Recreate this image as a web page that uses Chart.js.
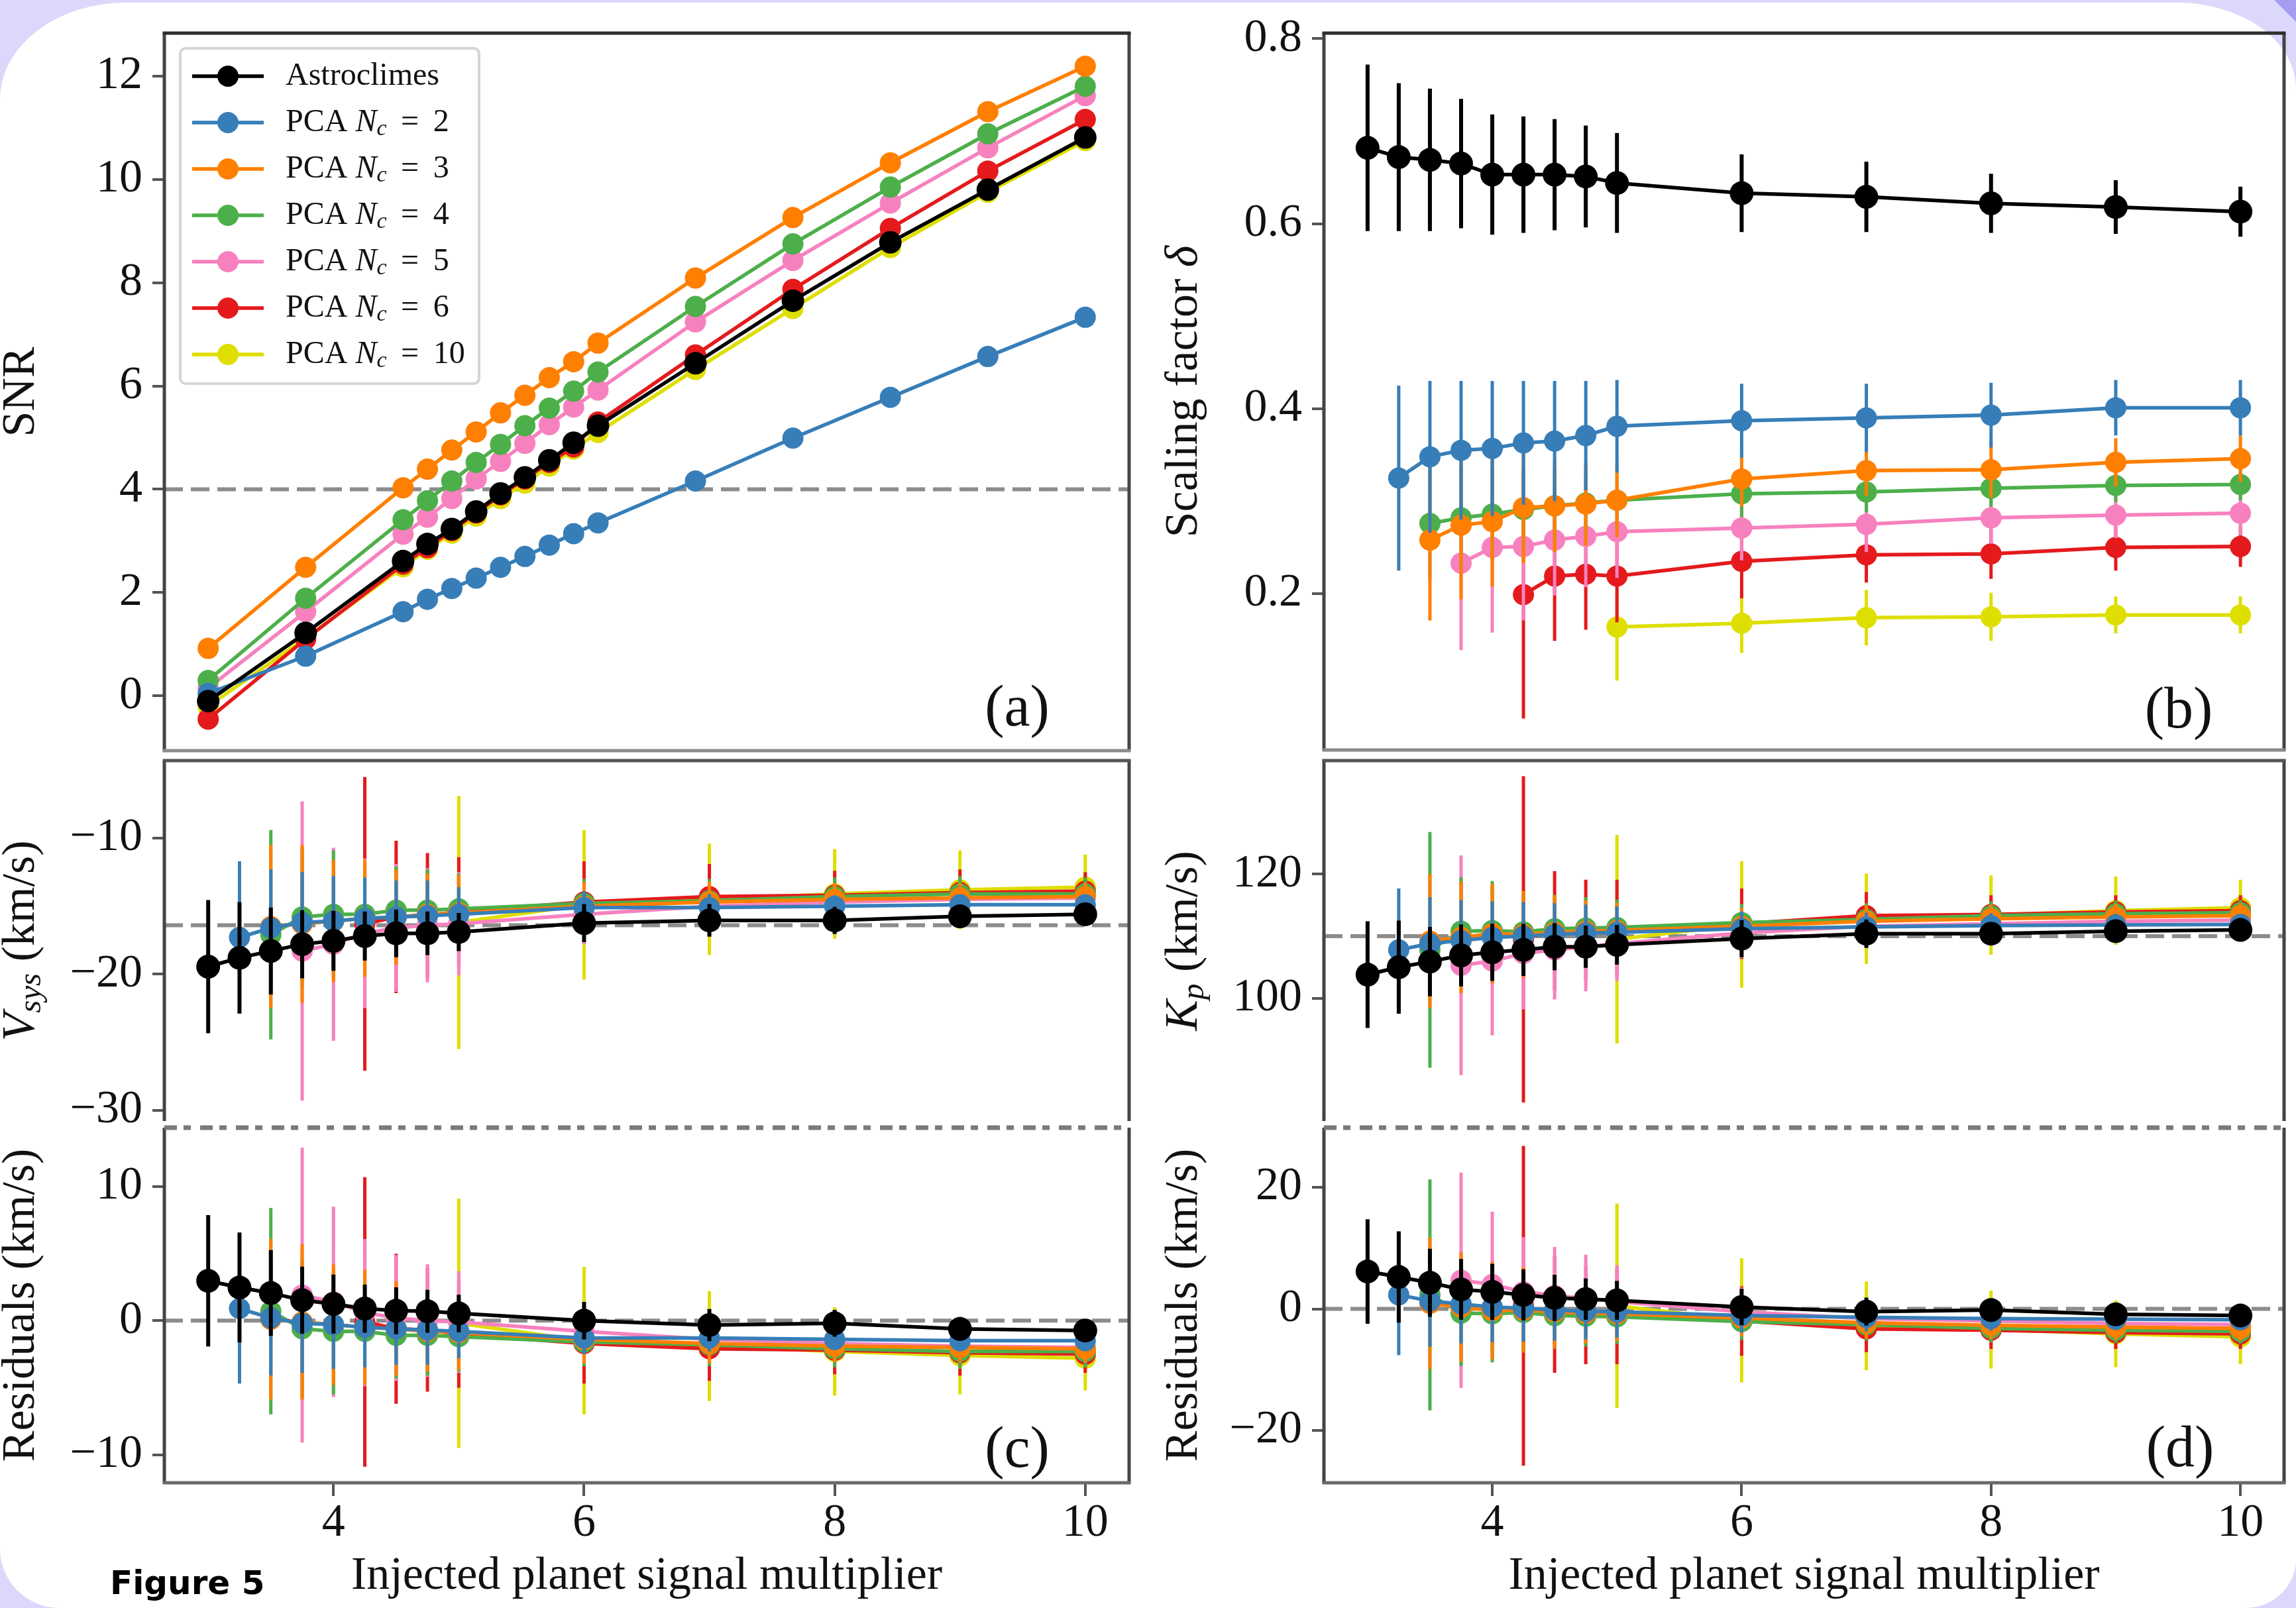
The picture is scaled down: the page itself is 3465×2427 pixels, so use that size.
<!DOCTYPE html>
<html>
<head>
<meta charset="utf-8">
<script src="https://cdn.jsdelivr.net/npm/chart.js@4.4.1/dist/chart.umd.min.js"></script>
<style>
  html, body { margin: 0; padding: 0; }
  body { width: 3465px; height: 2427px; position: relative; overflow: hidden; background: #dcd8fb; }
  #sheet { position: absolute; left: 0; top: 4px; width: 3465px; height: 2423px; background: #fff;
           border-radius: 190px 180px 77px 90px / 146px 130px 73px 90px; }
  #curl { position: absolute; right: 0; top: 0; width: 33px; height: 33px; background: #a69df1;
          clip-path: polygon(0 0, 100% 0, 100% 100%); }
  canvas { position: absolute; }
  #fig { position: absolute; left: 166px; top: 2359px; font: bold 50px "Comic Sans MS", "DejaVu Sans", sans-serif;
         line-height: 60px; color: #000; }
</style>
</head>
<body>
<div id="sheet"></div>
<div id="curl"></div>
<canvas id="pa"></canvas>
<canvas id="pb"></canvas>
<canvas id="pcu"></canvas>
<canvas id="pdu"></canvas>
<canvas id="pcl"></canvas>
<canvas id="pdl"></canvas>
<div id="fig">Figure 5</div>
<script>
// ---- data ----
const multA = [1, 2, 3, 3.25, 3.5, 3.75, 4, 4.25, 4.5, 4.75, 5, 6, 7, 8, 9, 10];
const mult = [3, 3.25, 3.5, 3.75, 4, 4.25, 4.5, 4.75, 5, 6, 7, 8, 9, 10];

// (a) SNR
const snrAstro = [-0.1, 1.22, 2.61, 2.94, 3.23, 3.57, 3.92, 4.23, 4.56, 4.9, 5.23, 6.44, 7.65, 8.78, 9.8, 10.81];
const snrN2 = [0.05, 0.77, 1.63, 1.87, 2.08, 2.28, 2.49, 2.7, 2.92, 3.14, 3.35, 4.16, 4.99, 5.78, 6.57, 7.33];
const snrN3 = [0.92, 2.49, 4.03, 4.39, 4.76, 5.11, 5.48, 5.82, 6.16, 6.47, 6.83, 8.09, 9.26, 10.32, 11.31, 12.19];
const snrN4 = [0.3, 1.89, 3.41, 3.78, 4.16, 4.52, 4.87, 5.23, 5.57, 5.9, 6.27, 7.54, 8.75, 9.85, 10.88, 11.8];
const snrN5 = [0.15, 1.63, 3.13, 3.46, 3.82, 4.2, 4.54, 4.89, 5.25, 5.59, 5.92, 7.24, 8.43, 9.54, 10.61, 11.62];
const snrN6 = [-0.45, 1.1, 2.55, 2.87, 3.2, 3.54, 3.89, 4.2, 4.52, 4.82, 5.3, 6.6, 7.87, 9.05, 10.16, 11.16];
const snrN10 = [-0.2, 1.12, 2.5, 2.84, 3.15, 3.48, 3.82, 4.12, 4.45, 4.78, 5.1, 6.32, 7.5, 8.68, 9.75, 10.75];

// (b) scaling factor
const delAstro = [0.682, 0.672, 0.669, 0.665, 0.653, 0.653, 0.653, 0.651, 0.644, 0.633, 0.629, 0.622, 0.618, 0.613];
const delN2 = [null, 0.325, 0.348, 0.355, 0.357, 0.363, 0.365, 0.371, 0.381, 0.387, 0.39, 0.393, 0.401, 0.401];
const delN3 = [null, null, 0.258, 0.274, 0.278, 0.293, 0.295, 0.297, 0.301, 0.324, 0.333, 0.334, 0.342, 0.346];
const delN4 = [null, null, 0.276, 0.282, 0.286, 0.291, 0.295, 0.298, 0.301, 0.308, 0.31, 0.314, 0.317, 0.318];
const delN5 = [null, null, null, 0.233, 0.25, 0.251, 0.258, 0.262, 0.267, 0.271, 0.275, 0.282, 0.285, 0.287];
const delN6 = [null, null, null, null, null, 0.199, 0.219, 0.221, 0.219, 0.235, 0.242, 0.243, 0.25, 0.251];
const delN10 = [null, null, null, null, null, null, null, null, 0.164, 0.168, 0.174, 0.175, 0.177, 0.177];
const delErrAstro = [0.09, 0.08, 0.077, 0.07, 0.065, 0.063, 0.06, 0.055, 0.054, 0.042, 0.038, 0.032, 0.029, 0.027];
const delErrN2 = [null, 0.1, 0.082, 0.075, 0.073, 0.067, 0.065, 0.059, 0.05, 0.04, 0.037, 0.035, 0.03, 0.03];
const delErrN3 = [null, null, 0.087, 0.08, 0.07, 0.06, 0.05, 0.045, 0.04, 0.03, 0.027, 0.03, 0.026, 0.025];
const delErrN4 = [null, null, 0.06, 0.055, 0.05, 0.045, 0.04, 0.035, 0.03, 0.025, 0.022, 0.02, 0.018, 0.017];
const delErrN5 = [null, null, null, 0.094, 0.092, 0.08, 0.06, 0.055, 0.05, 0.035, 0.03, 0.028, 0.025, 0.024];
const delErrN6 = [null, null, null, null, null, 0.134, 0.07, 0.06, 0.05, 0.04, 0.03, 0.027, 0.025, 0.022];
const delErrN10 = [null, null, null, null, null, null, null, null, 0.058, 0.032, 0.03, 0.026, 0.02, 0.02];

// (c) systemic velocity and residuals (km/s)
const vsysAstro = [-19.45, -18.8, -18.3, -17.8, -17.55, -17.2, -17.0, -17.0, -16.9, -16.25, -16.05, -16.05, -15.75, -15.6];
const vsysN2 = [null, -17.3, -16.6, -16.2, -16.1, -15.9, -15.8, -15.7, -15.6, -15.1, -15.1, -15.0, -14.9, -14.9];
const vsysN3 = [null, null, -16.5, -16.3, -16.1, -15.9, -15.8, -15.6, -15.5, -15.0, -14.7, -14.5, -14.4, -14.3];
const vsysN4 = [null, null, -17.1, -15.8, -15.6, -15.6, -15.3, -15.3, -15.2, -14.8, -14.6, -14.3, -14.1, -14.1];
const vsysN5 = [null, null, null, -18.3, -17.8, -17.0, -16.6, -16.4, -16.3, -15.6, -15.0, -14.7, -14.5, -14.4];
const vsysN6 = [null, null, null, null, null, -16.3, -15.8, -15.7, -15.4, -14.7, -14.3, -14.2, -14.0, -13.9];
const vsysN10 = [null, null, null, null, null, null, null, null, -16.2, -14.9, -14.5, -14.1, -13.8, -13.6];
const vsysErrAstro = [4.9, 4.1, 3.2, 2.5, 2.2, 1.8, 1.75, 1.6, 1.4, 1.4, 1.2, 1.0, 0.8, 0.7];
const vsysErrN2 = [null, 5.6, 4.3, 3.7, 3.3, 3.0, 2.7, 2.6, 2.0, 1.2, 1.0, 0.8, 0.7, 0.6];
const vsysErrN3 = [null, null, 6.0, 5.8, 4.5, 4.3, 3.5, 3.0, 2.8, 1.8, 1.5, 1.2, 1.1, 1.0];
const vsysErrN4 = [null, null, 7.7, 5.1, 4.7, 4.0, 3.2, 3.0, 2.6, 1.8, 1.6, 1.4, 1.3, 1.2];
const vsysErrN5 = [null, null, null, 11.0, 7.1, 5.5, 4.7, 4.2, 3.8, 2.2, 1.8, 1.5, 1.3, 1.2];
const vsysErrN6 = [null, null, null, null, null, 10.8, 5.6, 4.6, 4.0, 3.0, 2.4, 1.8, 1.7, 1.4];
const vsysErrN10 = [null, null, null, null, null, null, null, null, 9.3, 5.5, 4.1, 3.3, 2.9, 2.4];
const vresAstro = [2.97, 2.47, 2.06, 1.53, 1.24, 0.9, 0.74, 0.7, 0.54, 0.0, -0.33, -0.2, -0.62, -0.74];
const vresN2 = [null, 0.9, 0.2, -0.2, -0.3, -0.5, -0.6, -0.7, -0.8, -1.3, -1.3, -1.4, -1.5, -1.5];
const vresN3 = [null, null, 0.1, -0.1, -0.3, -0.5, -0.6, -0.8, -0.9, -1.4, -1.7, -1.9, -2.0, -2.1];
const vresN4 = [null, null, 0.7, -0.6, -0.8, -0.8, -1.1, -1.1, -1.2, -1.6, -1.8, -2.1, -2.3, -2.3];
const vresN5 = [null, null, null, 1.9, 1.4, 0.6, 0.2, 0.0, -0.1, -0.8, -1.4, -1.7, -1.9, -2.0];
const vresN6 = [null, null, null, null, null, -0.1, -0.6, -0.7, -1.0, -1.7, -2.1, -2.2, -2.4, -2.5];
const vresN10 = [null, null, null, null, null, null, null, null, -0.2, -1.5, -1.9, -2.3, -2.6, -2.8];

// (d) Kp and residuals (km/s)
const kpAstro = [103.8, 105.0, 105.9, 106.9, 107.4, 107.8, 108.3, 108.3, 108.6, 109.6, 110.4, 110.4, 110.8, 111.0];
const kpN2 = [null, 107.8, 108.8, 109.3, 109.8, 110.0, 110.3, 110.5, 110.6, 111.2, 111.5, 111.7, 111.8, 111.9];
const kpN3 = [null, null, 109.2, 109.8, 110.4, 110.3, 110.6, 110.8, 110.9, 111.6, 112.4, 112.8, 113.1, 113.3];
const kpN4 = [null, null, 107.8, 110.8, 110.9, 110.7, 111.2, 111.3, 111.4, 112.2, 112.7, 113.3, 113.6, 113.8];
const kpN5 = [null, null, null, 105.3, 106.0, 107.2, 107.8, 108.3, 108.8, 110.5, 111.6, 112.0, 112.4, 112.6];
const kpN6 = [null, null, null, null, null, 109.5, 110.9, 111.0, 111.2, 112.0, 113.3, 113.5, 113.9, 114.1];
const kpN10 = [null, null, null, null, null, null, null, null, 109.5, 111.9, 112.8, 113.4, 114.1, 114.6];
const kpErrAstro = [8.6, 7.5, 5.6, 5.0, 4.6, 4.2, 3.8, 3.4, 3.2, 3.0, 2.3, 1.8, 1.6, 1.3];
const kpErrN2 = [null, 9.9, 7.5, 6.5, 5.8, 5.5, 5.0, 4.6, 4.2, 2.8, 2.3, 2.0, 1.8, 1.6];
const kpErrN3 = [null, null, 10.8, 9.0, 8.0, 7.0, 6.0, 5.0, 4.5, 3.0, 2.6, 2.3, 2.1, 2.0];
const kpErrN4 = [null, null, 19.0, 8.7, 8.0, 6.5, 5.5, 5.0, 4.5, 3.0, 2.6, 2.3, 2.1, 2.0];
const kpErrN5 = [null, null, null, 17.7, 12.0, 9.0, 8.0, 7.2, 6.0, 4.0, 3.0, 2.6, 2.3, 2.1];
const kpErrN6 = [null, null, null, null, null, 26.3, 9.6, 8.1, 7.9, 5.7, 3.8, 3.1, 2.7, 2.5];
const kpErrN10 = [null, null, null, null, null, null, null, null, 16.8, 10.2, 7.3, 6.4, 5.5, 4.5];
const kresAstro = [6.15, 5.25, 4.3, 3.2, 2.8, 2.3, 1.8, 1.6, 1.4, 0.3, -0.45, -0.2, -0.9, -1.1];
const kresN2 = [null, 2.3, 1.3, 0.8, 0.3, 0.1, -0.2, -0.4, -0.5, -1.1, -1.4, -1.6, -1.7, -1.8];
const kresN3 = [null, null, 0.9, 0.3, -0.3, -0.2, -0.5, -0.7, -0.8, -1.5, -2.3, -2.7, -3.0, -3.2];
const kresN4 = [null, null, 2.3, -0.7, -0.8, -0.6, -1.1, -1.2, -1.3, -2.1, -2.6, -3.2, -3.5, -3.7];
const kresN5 = [null, null, null, 4.7, 4.0, 2.8, 2.2, 1.7, 1.2, -0.5, -1.6, -2.0, -2.4, -2.6];
const kresN6 = [null, null, null, null, null, 0.5, -0.9, -1.0, -1.2, -2.0, -3.3, -3.5, -3.9, -4.1];
const kresN10 = [null, null, null, null, null, null, null, null, 0.5, -1.9, -2.8, -3.4, -4.1, -4.6];

// reference lines and ticks
const snrThreshold = 4;
const vsysTrue = -16.4;
const kpTrue = 110;
const snrTicks = [0, 2, 4, 6, 8, 10, 12];
const delTicks = [0.2, 0.4, 0.6, 0.8];
const vsysTicks = [-30, -20, -10];
const vresTicks = [-10, 0, 10];
const kpTicks = [100, 120];
const kresTicks = [-20, 0, 20];
const multTicks = [4, 6, 8, 10];

const seriesNc = [null, 2, 3, 4, 5, 6, 10];
const seriesColors = ['#000000', '#377eb8', '#ff7f00', '#4daf4a', '#f781bf', '#e41a1c', '#dede00'];

// ---- drawing ----
const FONT = '"Liberation Serif", "Times New Roman", serif';
const INK = '#111';

const fmt = v => String(v).replace('-', '\u2212');

function pts(xs, ys) {
  return xs.map((x, i) => ({x: x, y: ys[i]})).filter(p => p.y !== null);
}
function errPts(xs, ys, es) {
  const out = [];
  xs.forEach((x, i) => {
    if (ys[i] === null) return;
    out.push({x: x, y: ys[i] - es[i]}, {x: x, y: ys[i] + es[i]}, {x: x, y: null});
  });
  return out;
}

function segFont(s, size) {
  return (s.it ? 'italic ' : '') + (s.sub ? Math.round(size * 0.7) : size) + 'px ' + FONT;
}
function richText(ctx, segs, x0, size, center) {
  let w = 0;
  segs.forEach(s => { ctx.font = segFont(s, size); w += ctx.measureText(s.t).width; });
  let x = center ? x0 - w / 2 : x0;
  segs.forEach(s => {
    ctx.font = segFont(s, size);
    ctx.fillText(s.t, x, s.sub ? size * 0.22 : 0);
    x += ctx.measureText(s.t).width;
  });
}

function legendLabel(k) {
  if (seriesNc[k] === null) return [{t: 'Astroclimes'}];
  return [{t: 'PCA '}, {t: 'N', it: true}, {t: 'c', it: true, sub: true}, {t: ' \u2009=\u2009 ' + seriesNc[k]}];
}

function makeDecor(cfg, box) {
  return {
    id: 'decor',
    afterDatasetsDraw(chart) {
      const ctx = chart.ctx;
      const a = chart.chartArea;
      ctx.save();
      const line = (x1, y1, x2, y2, color, w, dash) => {
        ctx.beginPath();
        ctx.strokeStyle = color;
        ctx.lineWidth = w;
        ctx.setLineDash(dash || []);
        ctx.moveTo(x1, y1);
        ctx.lineTo(x2, y2);
        ctx.stroke();
      };
      // spines
      line(a.left, a.top, a.left, a.bottom, '#444', 5);
      line(a.right, a.top, a.right, a.bottom, '#444', 5);
      if (cfg.top === 'dashdot') line(a.left, a.top, a.right, a.top, '#7a7a7a', 7, [19, 10, 11, 14]);
      else if (cfg.top) line(a.left - 2.5, a.top, a.right + 2.5, a.top, cfg.top, 5);
      if (cfg.bottom) line(a.left - 2.5, a.bottom, a.right + 2.5, a.bottom, cfg.bottom, 5);

      // legend
      if (cfg.legend) {
        ctx.setLineDash([]);
        ctx.beginPath();
        ctx.fillStyle = 'rgba(255,255,255,0.9)';
        ctx.strokeStyle = '#d5d5d5';
        ctx.lineWidth = 4;
        ctx.roundRect(272 - box.cl, 73 - box.ct, 451, 506, 8);
        ctx.fill();
        ctx.stroke();
        seriesColors.forEach((c, k) => {
          const y = 115 + 70 * k - box.ct;
          line(290 - box.cl, y, 398 - box.cl, y, c, 5.5);
          ctx.beginPath();
          ctx.fillStyle = c;
          ctx.arc(344 - box.cl, y, 16, 0, Math.PI * 2);
          ctx.fill();
          ctx.fillStyle = INK;
          ctx.textAlign = 'left';
          ctx.textBaseline = 'middle';
          ctx.save();
          ctx.translate(0, y);
          richText(ctx, legendLabel(k), 431 - box.cl, 48, false);
          ctx.restore();
        });
      }

      // y-axis title
      ctx.fillStyle = INK;
      ctx.save();
      ctx.translate(cfg.titleX - box.cl, (a.top + a.bottom) / 2);
      ctx.rotate(-Math.PI / 2);
      ctx.textAlign = 'left';
      ctx.textBaseline = 'middle';
      richText(ctx, cfg.yTitle, 0, 70, true);
      ctx.restore();

      // panel tag
      ctx.font = '88px ' + FONT;
      ctx.textAlign = 'center';
      ctx.textBaseline = 'alphabetic';
      ctx.fillText(cfg.tag, cfg.tagX - box.cl, cfg.tagY - box.ct + 22);
      ctx.restore();
    }
  };
}

function panel(id, box, area, cfg) {
  const cv = document.getElementById(id);
  cv.width = box.cw;
  cv.height = box.ch;
  cv.style.left = box.cl + 'px';
  cv.style.top = box.ct + 'px';
  const yW = area.L - box.cl;
  const xH = cfg.xTicks ? box.ct + box.ch - area.B : 0;

  const datasets = [];
  cfg.series.forEach((s, k) => {
    const color = seriesColors[k];
    datasets.push({
      data: pts(cfg.x, s), borderColor: color, backgroundColor: color, borderWidth: cfg.lw,
      pointRadius: cfg.r + (k === 0 ? cfg.r0 : 0), pointBorderWidth: 0, pointBackgroundColor: color,
      tension: 0, order: 2 * k
    });
    if (cfg.errors) {
      datasets.push({
        data: errPts(cfg.x, s, cfg.errors[k]), borderColor: color, borderWidth: k === 0 ? 6 : 5,
        pointRadius: 0, spanGaps: false, order: 2 * k + 1
      });
    }
  });
  if (cfg.ref !== undefined) {
    datasets.push({
      data: [{x: cfg.xMin, y: cfg.ref}, {x: cfg.xMax, y: cfg.ref}], borderColor: '#8c8c8c',
      borderWidth: 6, borderDash: [28, 12], pointRadius: 0, order: 100
    });
  }

  const gridOpts = {drawOnChartArea: false, drawTicks: true, color: '#555', lineWidth: 4};
  const noPad = s => { s.paddingTop = 0; s.paddingBottom = 0; s.paddingLeft = 0; s.paddingRight = 0; };

  return new Chart(cv, {
    type: 'line',
    data: {datasets: datasets},
    options: {
      responsive: false,
      animation: false,
      devicePixelRatio: 1,
      events: [],
      layout: {padding: {left: 0, top: area.T - box.ct, right: box.cl + box.cw - area.R,
                         bottom: box.ct + box.ch - area.B - xH}},
      plugins: {legend: {display: false}, tooltip: {enabled: false}},
      scales: {
        x: {
          type: 'linear', min: cfg.xMin, max: cfg.xMax, display: !!cfg.xTicks,
          afterBuildTicks: s => { if (cfg.xTicks) s.ticks = cfg.xTicks.map(v => ({value: v})); },
          afterFit: s => { s.height = xH; noPad(s); },
          grid: Object.assign({tickLength: 20}, gridOpts),
          border: {display: false},
          ticks: {font: {family: FONT, size: 70}, color: INK, padding: 0, maxRotation: 0, autoSkip: false,
                  callback: v => fmt(v)},
          title: {display: !!cfg.xTicks, text: 'Injected planet signal multiplier',
                  font: {family: FONT, size: 70}, color: INK, padding: {top: 0, bottom: 5}}
        },
        y: {
          type: 'linear', min: cfg.yMin, max: cfg.yMax,
          afterBuildTicks: s => { s.ticks = cfg.yTicks.map(v => ({value: v})); },
          afterFit: s => { s.width = yW; noPad(s); },
          grid: Object.assign({tickLength: 18}, gridOpts),
          border: {display: false},
          ticks: {font: {family: FONT, size: 70}, color: INK, padding: 15, autoSkip: false,
                  callback: v => cfg.fixed ? v.toFixed(cfg.fixed) : fmt(v)}
        }
      }
    },
    plugins: [makeDecor(cfg, box)]
  });
}

// page layout (pixels)
const colL = {cl: 0, cw: 1730, L: 248, R: 1704, titleX: 33};
const colR = {cl: 1730, cw: 1735, L: 1998, R: 3458, titleX: 1788};
const rowTop = {ct: 0, ch: 1150, T: 50, B: 1142};
const rowMid = {ct: 1130, ch: 590, T: 1146, B: 1692};
const rowBot = {ct: 1684, ch: 743, T: 1692, B: 2238};
const at = (c, r) => ({box: {cl: c.cl, cw: c.cw, ct: r.ct, ch: r.ch}, area: {L: c.L, R: c.R, T: r.T, B: r.B}});

const unitKms = [{t: ' (km/s)'}];

let p = at(colL, rowTop);
panel('pa', p.box, p.area, {
  x: multA, xMin: 0.55, xMax: 10.45, yMin: -1.06, yMax: 12.83, yTicks: snrTicks,
  series: [snrAstro, snrN2, snrN3, snrN4, snrN5, snrN6, snrN10], r: 16, r0: 1, lw: 5.5,
  ref: snrThreshold, top: '#2e2e2e', bottom: '#8a8a8a', legend: true,
  titleX: colL.titleX, yTitle: [{t: 'SNR'}], tag: '(a)', tagX: 1535, tagY: 1073
});

p = at(colR, rowTop);
panel('pb', p.box, p.area, {
  x: mult, xMin: 2.65, xMax: 10.35, yMin: 0.031, yMax: 0.806, yTicks: delTicks, fixed: 1,
  series: [delAstro, delN2, delN3, delN4, delN5, delN6, delN10],
  errors: [delErrAstro, delErrN2, delErrN3, delErrN4, delErrN5, delErrN6, delErrN10], r: 16, r0: 2, lw: 5.5,
  top: '#2e2e2e', bottom: '#8a8a8a',
  titleX: colR.titleX, yTitle: [{t: 'Scaling factor '}, {t: '\u03b4', it: true}], tag: '(b)', tagX: 3288, tagY: 1076
});

const vErr = [vsysErrAstro, vsysErrN2, vsysErrN3, vsysErrN4, vsysErrN5, vsysErrN6, vsysErrN10];
const kErr = [kpErrAstro, kpErrN2, kpErrN3, kpErrN4, kpErrN5, kpErrN6, kpErrN10];

p = at(colL, rowMid);
panel('pcu', p.box, p.area, {
  x: mult, xMin: 2.65, xMax: 10.35, yMin: -30.8, yMax: -4.3, yTicks: vsysTicks,
  series: [vsysAstro, vsysN2, vsysN3, vsysN4, vsysN5, vsysN6, vsysN10], errors: vErr, r: 16, r0: 2, lw: 5.5,
  ref: vsysTrue, top: '#555',
  titleX: colL.titleX, yTitle: [{t: 'V', it: true}, {t: 'sys', it: true, sub: true}].concat(unitKms), tag: '', tagX: 0, tagY: 0
});

p = at(colR, rowMid);
panel('pdu', p.box, p.area, {
  x: mult, xMin: 2.65, xMax: 10.35, yMin: 80.2, yMax: 138.3, yTicks: kpTicks,
  series: [kpAstro, kpN2, kpN3, kpN4, kpN5, kpN6, kpN10], errors: kErr, r: 16, r0: 2, lw: 5.5,
  ref: kpTrue, top: '#555',
  titleX: colR.titleX, yTitle: [{t: 'K', it: true}, {t: 'p', it: true, sub: true}].concat(unitKms), tag: '', tagX: 0, tagY: 0
});

p = at(colL, rowBot);
panel('pcl', p.box, p.area, {
  x: mult, xMin: 2.65, xMax: 10.35, yMin: -12.1, yMax: 14.4, yTicks: vresTicks, xTicks: multTicks,
  series: [vresAstro, vresN2, vresN3, vresN4, vresN5, vresN6, vresN10], errors: vErr, r: 16, r0: 2, lw: 5.5,
  ref: 0, top: 'dashdot', bottom: '#6a6a6a',
  titleX: colL.titleX, yTitle: [{t: 'Residuals (km/s)'}], tag: '(c)', tagX: 1535, tagY: 2192
});

p = at(colR, rowBot);
panel('pdl', p.box, p.area, {
  x: mult, xMin: 2.65, xMax: 10.35, yMin: -28.6, yMax: 29.8, yTicks: kresTicks, xTicks: multTicks,
  series: [kresAstro, kresN2, kresN3, kresN4, kresN5, kresN6, kresN10], errors: kErr, r: 16, r0: 2, lw: 5.5,
  ref: 0, top: 'dashdot', bottom: '#6a6a6a',
  titleX: colR.titleX, yTitle: [{t: 'Residuals (km/s)'}], tag: '(d)', tagX: 3290, tagY: 2191
});
</script>
</body>
</html>
